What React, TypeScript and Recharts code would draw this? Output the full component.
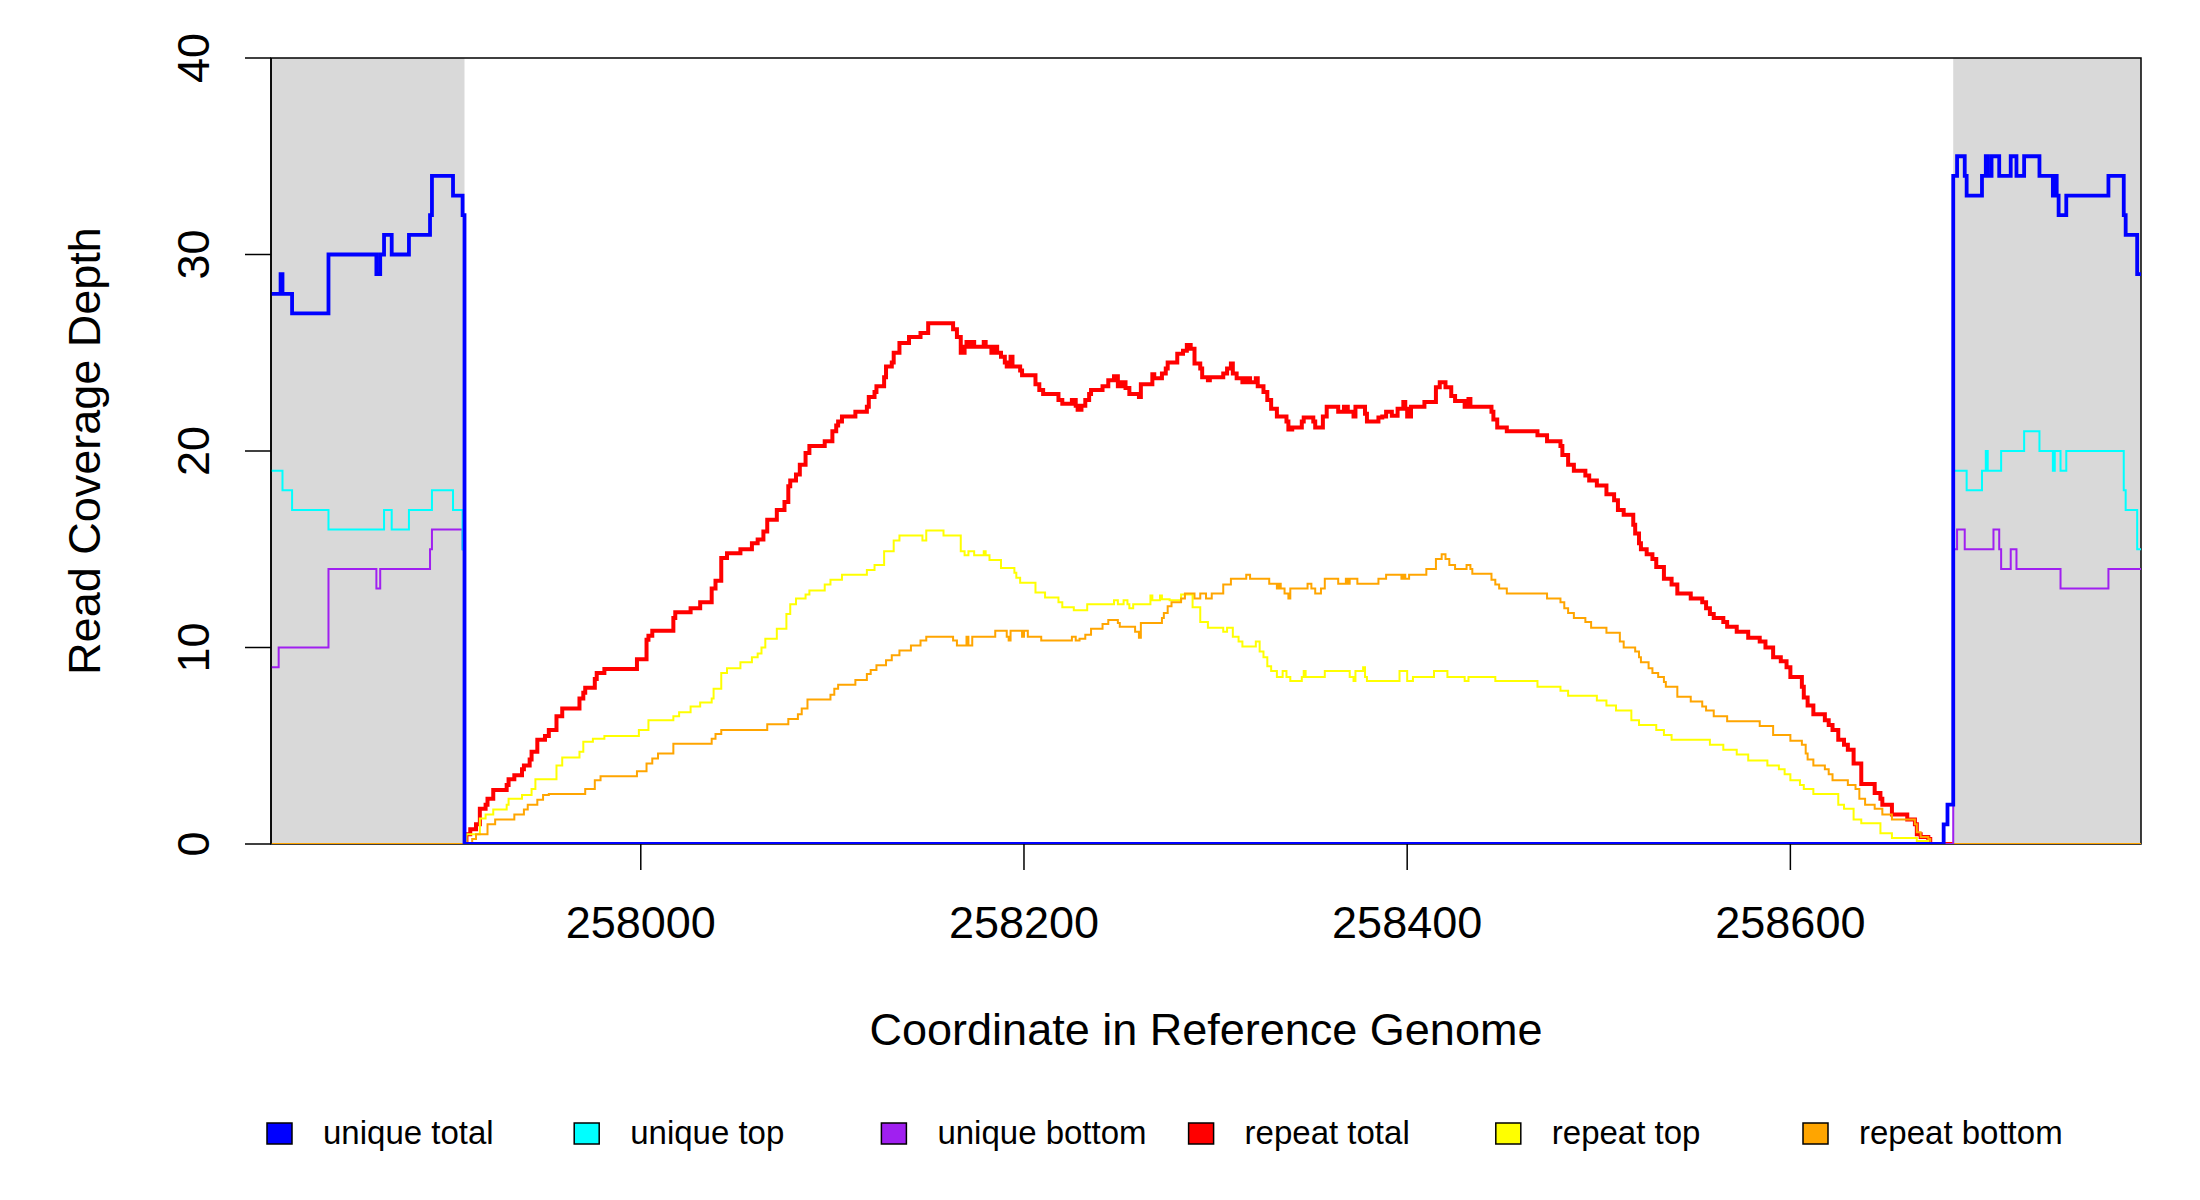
import React from 'react';
import { LineChart, Line, XAxis, YAxis, ReferenceArea, Legend, Label } from 'recharts';

const W = 2200;
const H = 1200;
const FONT = '"Liberation Sans", Arial, Helvetica, sans-serif';

const X_MIN = 257807;
const X_MAX = 258783;
const LEFT_SHADE_END = 257908;
const RIGHT_SHADE_START = 258685;
const xTicks = [258000, 258200, 258400, 258600];
const yTicks = [0, 10, 20, 30, 40];

const seriesNames = ['unique total', 'unique top', 'unique bottom', 'repeat total', 'repeat top', 'repeat bottom'];
const seriesColors = ['#0000FF', '#00FFFF', '#A020F0', '#FF0000', '#FFFF00', '#FFA500'];

// [coordinate, depth] step points
const uniqueTotal: [number, number][] = [
  [257807, 28], [257812, 29], [257813, 28], [257818, 27], [257837, 30], [257862, 29], [257864, 30], [257866, 31],
  [257870, 30], [257879, 31], [257890, 32], [257891, 34], [257902, 33], [257907, 32], [257908, 0], [258680, 1],
  [258682, 2], [258685, 34], [258687, 35], [258691, 34], [258692, 33], [258700, 34], [258702, 35], [258703, 34],
  [258705, 35], [258709, 34], [258715, 35], [258718, 34], [258722, 35], [258730, 34], [258737, 33], [258738, 34],
  [258739, 33], [258740, 32], [258744, 33], [258766, 34], [258774, 32], [258775, 31], [258781, 29], [258783, 29],
];

const uniqueTop: [number, number][] = [
  [257807, 19], [257813, 18], [257818, 17], [257837, 16], [257866, 17], [257870, 16], [257879, 17], [257891, 18],
  [257902, 17], [257907, 15], [257908, 0], [258680, 1], [258682, 2], [258685, 19], [258692, 18], [258700, 19],
  [258702, 20], [258703, 19], [258710, 20], [258722, 21], [258730, 20], [258737, 19], [258738, 20], [258741, 19],
  [258744, 20], [258774, 18], [258775, 17], [258781, 15], [258783, 15],
];

const uniqueBottom: [number, number][] = [
  [257807, 9], [257811, 10], [257837, 14], [257862, 13], [257864, 14], [257890, 15], [257891, 16], [257907, 15],
  [257908, 0], [258685, 15], [258687, 16], [258691, 15], [258706, 16], [258709, 15], [258710, 14], [258715, 15],
  [258718, 14], [258741, 13], [258766, 14], [258783, 14],
];

const repeatTotal: [number, number][] = [
  [257908, 0], [257909, 0.5], [257911, 0.75], [257914, 1.0], [257916, 1.8], [257919, 2.0], [257920, 2.3], [257923, 2.75],
  [257930, 3.0], [257931, 3.3], [257934, 3.5], [257938, 3.8], [257939, 4.0], [257942, 4.3], [257943, 4.7], [257946, 5.3],
  [257950, 5.5], [257952, 5.8], [257956, 6.5], [257959, 6.9], [257968, 7.4], [257970, 7.7], [257971, 7.95], [257976, 8.4],
  [257977, 8.7], [257981, 8.9], [257998, 9.4], [258003, 10.4], [258004, 10.6], [258006, 10.85], [258017, 11.5], [258018, 11.8],
  [258026, 12.0], [258031, 12.3], [258037, 13.0], [258039, 13.4], [258042, 14.55], [258045, 14.8], [258052, 15.0], [258058, 15.3],
  [258061, 15.5], [258064, 15.9], [258066, 16.5], [258071, 17.0], [258075, 17.4], [258077, 18.2], [258078, 18.5], [258081, 18.8],
  [258083, 19.3], [258086, 19.9], [258088, 20.25], [258096, 20.5], [258100, 21.0], [258102, 21.3], [258103, 21.5], [258105, 21.75],
  [258112, 22.0], [258118, 22.25], [258119, 22.75], [258122, 23.0], [258123, 23.3], [258127, 23.75], [258128, 24.3], [258131, 24.5],
  [258132, 25.0], [258135, 25.5], [258140, 25.8], [258146, 26.0], [258150, 26.5], [258163, 26.2], [258165, 25.8], [258167, 25.0],
  [258169, 25.3], [258170, 25.55], [258171, 25.3], [258173, 25.55], [258174, 25.3], [258179, 25.55], [258180, 25.3], [258183, 25.0],
  [258185, 25.3], [258186, 25.0], [258188, 24.8], [258190, 24.5], [258191, 24.3], [258193, 24.8], [258194, 24.3], [258198, 24.1],
  [258199, 23.85], [258206, 23.4], [258208, 23.1], [258210, 22.9], [258218, 22.6], [258220, 22.4], [258225, 22.6], [258227, 22.3],
  [258228, 22.1], [258230, 22.3], [258232, 22.6], [258234, 22.9], [258235, 23.1], [258241, 23.3], [258244, 23.6], [258247, 23.8],
  [258249, 23.3], [258251, 23.5], [258253, 23.2], [258255, 22.9], [258260, 22.75], [258261, 23.4], [258267, 23.9], [258268, 23.7],
  [258272, 23.95], [258274, 24.2], [258275, 24.5], [258280, 24.95], [258283, 25.1], [258285, 25.4], [258287, 25.2], [258289, 24.45],
  [258292, 24.2], [258293, 23.75], [258296, 23.6], [258297, 23.75], [258304, 23.95], [258306, 24.2], [258308, 24.45], [258309, 23.95],
  [258311, 23.7], [258314, 23.5], [258316, 23.7], [258318, 23.5], [258321, 23.7], [258322, 23.3], [258325, 23.0], [258327, 22.6],
  [258329, 22.15], [258332, 21.75], [258337, 21.5], [258338, 21.1], [258340, 21.2], [258345, 21.5], [258346, 21.7], [258351, 21.5],
  [258352, 21.2], [258356, 21.75], [258358, 22.25], [258364, 22.0], [258367, 22.25], [258369, 22.0], [258372, 21.75], [258373, 22.25],
  [258378, 21.9], [258379, 21.5], [258385, 21.7], [258387, 21.75], [258389, 22.0], [258392, 21.8], [258395, 22.15], [258398, 22.5],
  [258399, 22.15], [258400, 21.75], [258402, 22.25], [258409, 22.5], [258415, 23.25], [258417, 23.5], [258420, 23.25], [258423, 22.8],
  [258425, 22.55], [258430, 22.25], [258432, 22.65], [258433, 22.25], [258444, 22.0], [258445, 21.6], [258447, 21.2], [258452, 21.0],
  [258468, 20.8], [258473, 20.5], [258480, 20.25], [258481, 19.8], [258484, 19.3], [258487, 19.0], [258493, 18.75], [258495, 18.5],
  [258499, 18.25], [258504, 17.8], [258508, 17.5], [258510, 17.0], [258513, 16.75], [258518, 16.25], [258519, 15.8], [258521, 15.3],
  [258522, 15.0], [258525, 14.75], [258528, 14.5], [258530, 14.1], [258534, 13.5], [258538, 13.2], [258541, 12.75], [258548, 12.5],
  [258554, 12.3], [258556, 12.0], [258558, 11.7], [258560, 11.5], [258565, 11.3], [258567, 11.05], [258572, 10.8], [258578, 10.5],
  [258584, 10.3], [258587, 10.0], [258591, 9.5], [258595, 9.3], [258598, 9.0], [258600, 8.5], [258606, 8.0], [258607, 7.45],
  [258609, 7.05], [258612, 6.6], [258618, 6.3], [258620, 6.05], [258622, 5.8], [258625, 5.3], [258628, 5.05], [258630, 4.8],
  [258633, 4.1], [258637, 3.05], [258644, 2.6], [258647, 2.3], [258648, 2.0], [258653, 1.5], [258661, 1.25], [258665, 1.0],
  [258666, 0.5], [258668, 0.35], [258672, 0.25], [258673, 0], [258685, 0],
];

const repeatTop: [number, number][] = [
  [257807, 0], [257909, 0.5], [257916, 1.3], [257919, 1.5], [257923, 1.75], [257930, 2.0], [257931, 2.3], [257938, 2.5],
  [257943, 2.8], [257945, 3.3], [257956, 4.0], [257959, 4.4], [257968, 4.7], [257970, 5.2], [257975, 5.35], [257981, 5.5],
  [257999, 5.8], [258004, 6.3], [258017, 6.5], [258020, 6.7], [258026, 7.0], [258031, 7.2], [258037, 7.4], [258038, 7.9],
  [258042, 8.7], [258045, 8.95], [258052, 9.25], [258058, 9.5], [258061, 9.7], [258063, 10.0], [258065, 10.45], [258071, 10.95],
  [258076, 11.7], [258078, 12.2], [258081, 12.5], [258086, 12.7], [258088, 12.9], [258096, 13.2], [258099, 13.45], [258105, 13.7],
  [258118, 13.95], [258122, 14.2], [258127, 14.9], [258132, 15.45], [258135, 15.7], [258147, 15.45], [258149, 15.95], [258158, 15.7],
  [258167, 14.9], [258169, 14.7], [258171, 14.9], [258174, 14.7], [258179, 14.9], [258180, 14.7], [258182, 14.45], [258188, 14.05],
  [258195, 13.8], [258196, 13.55], [258198, 13.3], [258206, 12.8], [258211, 12.55], [258218, 12.3], [258220, 12.05], [258226, 11.9],
  [258233, 12.2], [258247, 12.4], [258249, 12.2], [258252, 12.4], [258254, 12.2], [258255, 12.0], [258257, 12.2], [258266, 12.65],
  [258267, 12.4], [258271, 12.65], [258272, 12.45], [258276, 12.4], [258282, 12.7], [258288, 12.05], [258292, 11.3], [258296, 11.0],
  [258304, 10.8], [258306, 11.0], [258309, 10.55], [258312, 10.3], [258314, 10.05], [258321, 10.3], [258323, 9.8], [258325, 9.5],
  [258327, 9.05], [258329, 8.8], [258332, 8.5], [258335, 8.8], [258337, 8.5], [258339, 8.3], [258345, 8.5], [258346, 8.8],
  [258347, 8.5], [258357, 8.8], [258370, 8.5], [258372, 8.3], [258373, 8.8], [258377, 9.0], [258378, 8.5], [258379, 8.3],
  [258396, 8.8], [258400, 8.3], [258403, 8.5], [258414, 8.8], [258421, 8.5], [258430, 8.3], [258432, 8.5], [258446, 8.3],
  [258468, 8.0], [258480, 7.8], [258484, 7.55], [258499, 7.3], [258504, 7.05], [258509, 6.8], [258517, 6.3], [258521, 6.05],
  [258530, 5.8], [258534, 5.55], [258538, 5.3], [258558, 5.05], [258565, 4.8], [258572, 4.55], [258578, 4.25], [258588, 4.0],
  [258594, 3.8], [258597, 3.55], [258600, 3.25], [258605, 3.0], [258607, 2.8], [258612, 2.55], [258625, 2.0], [258628, 1.8],
  [258633, 1.25], [258637, 1.05], [258647, 0.55], [258653, 0.3], [258666, 0.15], [258672, 0], [258783, 0],
];

const repeatBottom: [number, number][] = [
  [257807, 0], [257912, 0.25], [257914, 0.5], [257920, 1.0], [257924, 1.25], [257934, 1.5], [257939, 1.75], [257941, 2.0],
  [257946, 2.25], [257949, 2.5], [257952, 2.55], [257971, 2.8], [257976, 3.25], [257979, 3.45], [257998, 3.7], [258003, 4.1],
  [258006, 4.35], [258009, 4.6], [258017, 5.1], [258037, 5.35], [258039, 5.6], [258042, 5.8], [258066, 6.1], [258077, 6.36],
  [258082, 6.6], [258084, 6.9], [258087, 7.35], [258099, 7.6], [258101, 7.9], [258103, 8.1], [258112, 8.35], [258118, 8.65],
  [258120, 8.85], [258123, 9.1], [258128, 9.35], [258131, 9.6], [258135, 9.85], [258141, 10.1], [258146, 10.35], [258149, 10.55],
  [258163, 10.35], [258165, 10.1], [258170, 10.55], [258171, 10.1], [258173, 10.55], [258185, 10.85], [258191, 10.55], [258192, 10.35],
  [258193, 10.85], [258199, 10.55], [258200, 10.85], [258202, 10.55], [258209, 10.35], [258225, 10.55], [258227, 10.35], [258229, 10.45],
  [258232, 10.65], [258235, 10.95], [258241, 11.2], [258244, 11.4], [258249, 11.25], [258250, 11.05], [258258, 10.8], [258260, 10.5],
  [258261, 11.25], [258272, 11.5], [258273, 11.75], [258275, 12.1], [258277, 12.3], [258282, 12.5], [258284, 12.75], [258289, 12.5],
  [258292, 12.75], [258295, 12.5], [258298, 12.75], [258304, 13.2], [258308, 13.5], [258316, 13.7], [258318, 13.5], [258328, 13.25],
  [258332, 13.0], [258333, 13.25], [258334, 13.0], [258336, 12.75], [258338, 12.5], [258339, 13.0], [258348, 13.25], [258350, 13.0],
  [258352, 12.75], [258355, 13.0], [258357, 13.5], [258364, 13.25], [258368, 13.5], [258369, 13.25], [258370, 13.5], [258374, 13.25],
  [258385, 13.5], [258389, 13.7], [258397, 13.5], [258398, 13.7], [258399, 13.5], [258401, 13.7], [258410, 14.0], [258415, 14.5],
  [258418, 14.75], [258420, 14.5], [258422, 14.2], [258425, 14.0], [258431, 14.2], [258433, 14.0], [258434, 13.75], [258444, 13.45],
  [258446, 13.2], [258448, 13.0], [258452, 12.75], [258473, 12.5], [258480, 12.3], [258482, 12.0], [258484, 11.75], [258487, 11.5],
  [258493, 11.3], [258496, 11.0], [258504, 10.75], [258511, 10.3], [258513, 10.0], [258519, 9.8], [258521, 9.5], [258522, 9.25],
  [258526, 8.95], [258528, 8.7], [258531, 8.5], [258534, 8.25], [258535, 8.0], [258541, 7.5], [258548, 7.25], [258554, 7.0],
  [258556, 6.8], [258560, 6.5], [258567, 6.25], [258584, 6.0], [258591, 5.55], [258600, 5.25], [258606, 5.05], [258608, 4.6],
  [258609, 4.3], [258612, 4.0], [258618, 3.8], [258620, 3.55], [258622, 3.25], [258630, 3.0], [258634, 2.8], [258636, 2.3],
  [258639, 2.0], [258644, 1.8], [258648, 1.5], [258653, 1.25], [258665, 1.0], [258666, 0.6], [258668, 0.35], [258672, 0.25],
  [258673, 0], [258783, 0],
];

const toData = (pts: [number, number][]) => pts.map(([x, y]) => ({ x, y }));

// drawing order: repeat series first, unique series on top (unique total last)
const drawOrder = [
  { name: 'repeat total', pts: repeatTotal, width: 4 },
  { name: 'repeat top', pts: repeatTop, width: 2 },
  { name: 'repeat bottom', pts: repeatBottom, width: 2 },
  { name: 'unique bottom', pts: uniqueBottom, width: 2 },
  { name: 'unique top', pts: uniqueTop, width: 2 },
  { name: 'unique total', pts: uniqueTotal, width: 3.8 },
];

const colorOf = (name: string) => seriesColors[seriesNames.indexOf(name)];

const XTick = (props: any) => {
  const { x, y, payload } = props;
  return (
    <text x={x} y={y + 68} textAnchor="middle" fontSize={45} fontFamily={FONT} fill="#000">
      {payload.value}
    </text>
  );
};

const YTick = (props: any) => {
  const { x, y, payload } = props;
  const bx = x - 36;
  return (
    <text x={bx} y={y} transform={`rotate(-90 ${bx} ${y})`} textAnchor="middle" fontSize={45} fontFamily={FONT} fill="#000">
      {payload.value}
    </text>
  );
};

const LegendContent = (props: any) => {
  const payload: any[] = props.payload || [];
  return (
    <svg width={W} height={70} style={{ display: 'block' }}>
      {seriesNames.map((name, i) => {
        const entry = payload.find((p) => p.value === name);
        const color = entry ? entry.color : seriesColors[i];
        const bx = 267 + i * 307.2;
        return (
          <g key={name}>
            <rect x={bx} y={23} width={25} height={21} fill={color} stroke="#000" strokeWidth={1.5} />
            <text x={bx + 56} y={44} fontSize={33} fontFamily={FONT} fill="#000">
              {name}
            </text>
          </g>
        );
      })}
    </svg>
  );
};

export default function App() {
  return (
    <div style={{ position: 'absolute', left: 0, top: 0, width: W, height: H, background: '#fff' }}>
      <LineChart width={W} height={H} margin={{ top: 58, right: 59, left: 171, bottom: 256 }}>
        <XAxis
          type="number"
          dataKey="x"
          domain={[X_MIN, X_MAX]}
          allowDataOverflow
          ticks={xTicks}
          interval={0}
          height={100}
          tickSize={26}
          tickMargin={0}
          axisLine={false}
          tickLine={{ stroke: '#000', strokeWidth: 1.5 }}
          tick={<XTick />}
        >
          <Label
            content={() => (
              <text x={1206} y={1045} textAnchor="middle" fontSize={45} fontFamily={FONT} fill="#000">
                Coordinate in Reference Genome
              </text>
            )}
          />
        </XAxis>
        <YAxis
          type="number"
          domain={[0, 40]}
          allowDataOverflow
          ticks={yTicks}
          interval={0}
          width={100}
          tickSize={26}
          tickMargin={0}
          axisLine={{ stroke: '#000', strokeWidth: 1.5 }}
          tickLine={{ stroke: '#000', strokeWidth: 1.5 }}
          tick={<YTick />}
        >
          <Label
            content={() => (
              <text x={100} y={451} transform="rotate(-90 100 451)" textAnchor="middle" fontSize={45} fontFamily={FONT} fill="#000">
                Read Coverage Depth
              </text>
            )}
          />
        </YAxis>
        <ReferenceArea x1={X_MIN} x2={LEFT_SHADE_END} y1={0} y2={40} fill="#D9D9D9" fillOpacity={1} stroke="none" />
        <ReferenceArea x1={RIGHT_SHADE_START} x2={X_MAX} y1={0} y2={40} fill="#D9D9D9" fillOpacity={1} stroke="none" />
        <ReferenceArea x1={X_MIN} x2={X_MAX} y1={0} y2={40} fill="none" fillOpacity={0} stroke="#000" strokeWidth={1.5} />
        {drawOrder.map((s) => (
          <Line
            key={s.name}
            name={s.name}
            data={toData(s.pts)}
            dataKey="y"
            type="stepAfter"
            stroke={colorOf(s.name)}
            strokeWidth={s.width}
            dot={false}
            activeDot={false}
            isAnimationActive={false}
          />
        ))}
        <Legend
          layout="vertical"
          align="center"
          verticalAlign="middle"
          wrapperStyle={{ left: 0, top: 1100, width: W, height: 70 }}
          content={<LegendContent />}
        />
      </LineChart>
    </div>
  );
}
